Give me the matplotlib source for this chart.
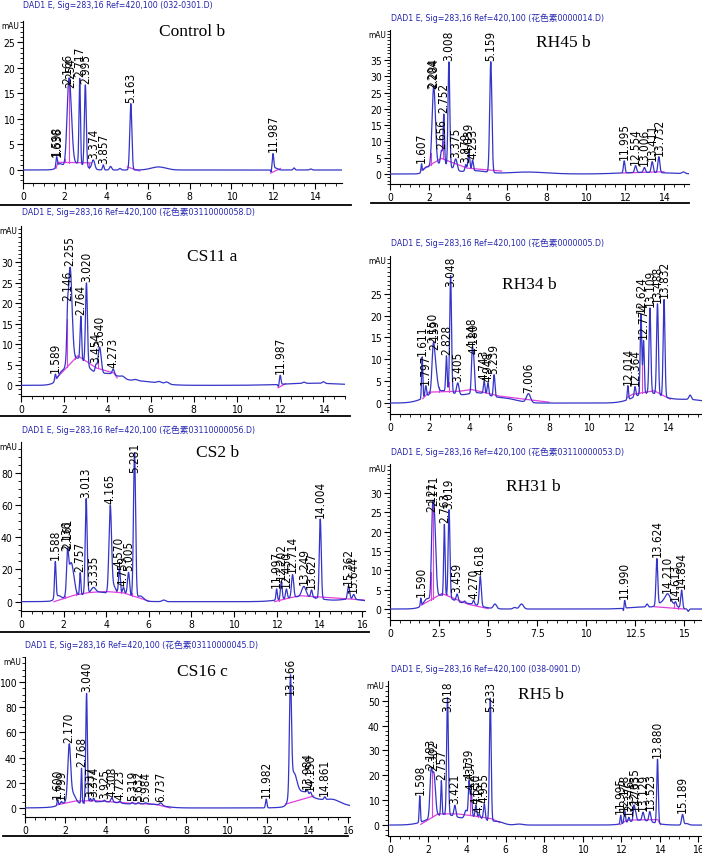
import numpy as np
import matplotlib
matplotlib.use("Agg")
import matplotlib.pyplot as plt
from matplotlib import font_manager
from matplotlib.ticker import MultipleLocator, FixedLocator, FuncFormatter

W, H = 702, 854

# peak tables: (retention time, height mAU, width, label)
# unlabelled rows are the broad humps under the peaks
control_peaks = [
    (2.45, 1.4, 0.45, ''), (1.75, 0.8, 0.12, ''),
    (1.60, 1.6, 0.025, '1.598'), (1.64, 1.0, 0.025, '1.636'),
    (2.17, 10.0, 0.08, '2.166'), (2.27, 10.0, 0.09, '2.254'),
    (2.72, 16.8, 0.035, '2.717'), (2.99, 16.0, 0.045, '2.995'),
    (3.37, 1.8, 0.07, '3.374'), (3.85, 1.0, 0.035, '3.857'),
    (4.20, 0.7, 0.05, ''), (4.65, 0.3, 0.05, ''),
    (5.17, 13.0, 0.05, '5.163'), (6.5, 0.6, 0.35, ''),
    (11.90, -0.5, 0.02, ''), (11.99, 3.0, 0.035, '11.987'), (12.1, 0.4, 0.1, ''),
    (13.0, 0.4, 0.04, ''), (13.8, 0.2, 0.05, ''),
]
control_base = [[(1.58, 0.3), (1.68, 1.5), (3.25, 1.4)], [(5.0, 0.6), (5.6, -0.2)],
                [(11.88, -0.6), (12.35, 0.3)]]
control_drops = [2.0, 2.2, 2.58, 2.85, 3.15]
control_yticks = [0, 5, 10, 15, 20, 25]

rh45_peaks = [
    (2.65, 3.2, 0.45, ''), (1.85, 1.5, 0.15, ''), (4.3, 1.0, 0.6, ''),
    (7.0, 0.6, 1.0, ''), (13.0, 0.5, 1.2, ''),
    (1.61, 2.5, 0.025, '1.607'), (2.21, 13.0, 0.08, '2.204'), (2.26, 13.0, 0.08, '2.284'),
    (2.63, 4.0, 0.05, '2.656'), (2.75, 15.0, 0.035, '2.752'), (3.01, 32.0, 0.045, '3.008'),
    (3.36, 3.4, 0.07, '3.375'), (3.87, 2.0, 0.04, '3.879'), (4.03, 5.3, 0.05, '4.039'),
    (4.22, 3.3, 0.04, '4.233'), (5.15, 34.0, 0.055, '5.159'), (11.97, 3.7, 0.04, '11.995'),
    (12.55, 2.1, 0.05, '12.554'), (13.0, 1.5, 0.05, '13.006'), (13.4, 3.3, 0.05, '13.411'),
    (13.74, 4.9, 0.05, '13.732'), (15.0, 0.5, 0.08, ''),
]
rh45_base = [[(1.62, 1.2), (2.62, 4.8), (3.95, 1.8), (5.7, 0.9)], [(11.9, 0.3), (14.0, 0.7)]]
rh45_drops = [2.08, 2.7, 2.85]
rh45_yticks = [0, 5, 10, 15, 20, 25, 30, 35]

cs11_peaks = [
    (2.6, 6.5, 0.5, ''), (4.0, 2.6, 0.55, ''), (1.85, 1.2, 0.15, ''),
    (5.5, 1.0, 0.8, ''), (13.5, 0.5, 1.3, ''),
    (1.59, 1.6, 0.03, '1.589'), (2.15, 6.0, 0.03, '2.146'), (2.27, 23.5, 0.09, '2.255'),
    (2.77, 10.5, 0.035, '2.764'), (3.03, 19.9, 0.045, '3.020'), (3.47, 1.7, 0.04, '3.454'),
    (3.64, 6.4, 0.07, '3.640'), (4.27, 1.3, 0.05, '4.273'),
    (4.7, 0.5, 0.1, ''), (5.3, 0.3, 0.1, ''), (6.4, 0.4, 0.1, ''), (6.75, 0.5, 0.1, ''),
    (11.92, -0.6, 0.03, ''), (12.0, 2.2, 0.035, '11.987'), (13.1, 0.3, 0.06, ''), (14.0, 0.4, 0.06, ''),
]
cs11_base = [[(1.62, 1.6), (2.63, 7.2), (3.5, 4.2), (4.3, 3.0), (4.45, 1.8)],
             [(11.9, -0.6), (12.25, 0.4)]]
cs11_drops = [2.13, 2.5, 2.9, 3.55]
cs11_yticks = [0, 5, 10, 15, 20, 25, 30]

rh34_peaks = [
    (2.6, 2.8, 0.7, ''), (4.4, 2.2, 0.6, ''), (5.8, 1.0, 0.6, ''),
    (13.0, 2.3, 0.7, ''), (15.0, 0.8, 0.8, ''),
    (1.62, 9.5, 0.03, '1.611'), (1.80, 2.5, 0.04, '1.797'),
    (2.17, 6.0, 0.06, '2.150'), (2.25, 7.0, 0.1, '2.159'),
    (2.84, 8.1, 0.035, '2.828'), (3.05, 26.7, 0.045, '3.048'), (3.41, 2.6, 0.06, '3.405'),
    (4.13, 8.5, 0.04, '4.148'), (4.21, 7.5, 0.045, '4.180'),
    (4.74, 2.9, 0.04, '4.743'), (4.93, 2.7, 0.04, '4.948'), (5.24, 5.0, 0.04, '5.239'),
    (6.97, 2.0, 0.1, '7.006'), (11.97, 3.2, 0.03, '12.014'), (12.33, 2.3, 0.04, '12.364'),
    (12.63, 18.3, 0.04, '12.624'), (12.76, 12.0, 0.035, '12.774'),
    (13.08, 19.4, 0.045, '13.109'), (13.46, 20.7, 0.045, '13.488'),
    (13.79, 22.2, 0.045, '13.832'), (15.1, 1.0, 0.06, ''),
]
rh34_base = [[(1.65, 1.0), (1.95, 2.5), (3.5, 2.7), (4.1, 3.1), (5.5, 1.6), (8.0, 0.2)],
             [(11.95, 1.3), (12.2, 2.0), (13.3, 2.8), (14.1, 0.9)]]
rh34_drops = [2.0, 2.45, 2.95, 4.05, 12.55, 12.7, 12.9, 13.3, 13.65]
rh34_yticks = [0, 5, 10, 15, 20, 25]

cs2_peaks = [
    (3.6, 6.0, 0.9, ''), (1.75, 3.0, 0.15, ''), (2.35, 22.0, 0.13, ''),
    (4.35, 5.0, 0.1, ''), (4.85, 3.0, 0.25, ''), (5.6, 3.0, 0.15, ''), (6.7, 1.0, 0.08, ''),
    (13.2, 3.2, 0.8, ''), (15.5, 1.5, 0.5, ''),
    (1.61, 22.5, 0.035, '1.588'), (2.17, 15.0, 0.04, '2.136'), (2.21, 9.0, 0.04, '2.161'),
    (2.78, 14.0, 0.03, '2.757'), (3.06, 59.0, 0.045, '3.013'), (3.40, 3.0, 0.1, '3.335'),
    (4.19, 53.5, 0.06, '4.165'), (4.62, 15.8, 0.04, '4.570'), (4.81, 3.5, 0.04, '4.759'),
    (5.05, 14.4, 0.05, '5.005'), (5.33, 90.5, 0.05, '5.281'),
    (12.0, 6.9, 0.03, '11.997'), (12.22, 11.1, 0.04, '12.202'), (12.46, 5.8, 0.04, '12.450'),
    (12.75, 14.1, 0.05, '12.714'), (13.28, 6.3, 0.1, '13.249'), (13.64, 4.5, 0.04, '13.627'),
    (14.05, 49.6, 0.045, '14.004'), (15.38, 8.4, 0.05, '15.362'), (15.62, 3.0, 0.05, '15.644'),
]
cs2_base = [[(1.55, 0.0), (2.5, 4.0), (3.2, 5.7), (4.0, 6.3), (4.8, 5.5), (6.0, 0.4)],
            [(11.9, 0.0), (12.5, 2.0), (13.1, 3.7), (14.5, 2.5), (15.6, 1.5), (16.1, 1.0)]]
cs2_drops = [2.05, 2.6, 2.9, 4.45, 4.7, 4.9, 5.2, 12.1, 12.35, 12.6, 13.5, 13.8]
cs2_yticks = [0, 20, 40, 60, 80]

rh31_peaks = [
    (2.6, 3.5, 0.55, ''), (4.0, 1.3, 0.6, ''), (1.85, 1.2, 0.15, ''),
    (14.1, 2.2, 0.35, ''), (12.8, 0.5, 0.7, ''),
    (1.57, 2.0, 0.025, '1.590'), (2.15, 12.3, 0.05, '2.121'), (2.25, 21.7, 0.08, '2.171'),
    (2.77, 18.4, 0.035, '2.763'), (3.01, 22.7, 0.045, '3.019'), (3.42, 1.9, 0.05, '3.459'),
    (3.8, 0.5, 0.05, ''), (4.26, 1.0, 0.04, '4.270'), (4.60, 7.6, 0.05, '4.618'),
    (5.35, 1.2, 0.08, ''), (6.35, 0.4, 0.08, ''), (6.7, 1.3, 0.1, ''),
    (11.90, -0.8, 0.02, ''), (11.96, 2.0, 0.03, '11.990'), (13.1, 0.8, 0.05, ''),
    (13.60, 12.0, 0.045, '13.624'), (14.15, 1.7, 0.12, '14.210'), (14.55, 0.9, 0.04, '14.613'),
    (14.86, 4.7, 0.045, '14.894'), (15.2, -0.6, 0.04, ''),
]
rh31_base = [[(1.6, 1.0), (2.65, 4.0), (4.0, 1.2), (5.0, 0.1)], [(13.45, 0.6), (15.0, 0.0)]]
rh31_drops = [2.08, 2.2, 2.65, 2.88, 14.45, 14.7]
rh31_yticks = [0, 5, 10, 15, 20, 25, 30]

cs16_peaks = [
    (3.8, 5.0, 1.2, ''), (2.0, 2.5, 0.3, ''), (2.35, 8.0, 0.15, ''), (6.2, 2.5, 0.6, ''),
    (14.7, 6.5, 0.9, ''), (13.3, 22.0, 0.16, ''), (13.75, 9.0, 0.35, ''), (15.3, 1.5, 0.25, ''),
    (1.62, 4.5, 0.03, '1.600'), (1.80, 1.8, 0.04, '1.799'),
    (2.19, 42.4, 0.07, '2.170'), (2.80, 27.9, 0.025, '2.768'), (3.05, 87.0, 0.04, '3.040'),
    (3.24, 3.0, 0.04, '3.237'), (3.40, 3.0, 0.04, '3.374'), (3.93, 1.2, 0.04, '3.925'),
    (4.30, 3.5, 0.05, '4.308'), (4.70, 1.5, 0.05, '4.723'), (5.32, 1.3, 0.05, '5.319'),
    (5.62, 1.2, 0.05, '5.632'), (5.97, 0.8, 0.05, '5.984'), (6.73, 2.0, 0.07, '6.737'),
    (11.95, 7.0, 0.035, '11.982'), (13.15, 88.0, 0.05, '13.166'),
    (13.98, 2.5, 0.04, '13.984'), (14.15, 2.5, 0.04, '14.150'), (14.85, 2.1, 0.04, '14.861'),
]
cs16_base = [[(1.6, 2.5), (2.5, 5.5), (3.5, 5.8), (5.0, 4.0), (6.5, 2.8), (7.2, 0.0)],
             [(12.9, 3.0), (14.3, 9.5)]]
cs16_drops = [2.6, 2.9, 3.2]
cs16_yticks = [0, 20, 40, 60, 80, 100]

rh5_peaks = [
    (2.8, 4.3, 0.75, ''), (4.5, 3.0, 0.5, ''), (5.6, 1.2, 0.3, ''),
    (13.0, 2.0, 0.6, ''), (6.7, 0.4, 0.2, ''), (3.95, 3.0, 0.07, ''),
    (1.55, 10.7, 0.03, '1.598'), (2.13, 16.1, 0.06, '2.183'), (2.28, 17.1, 0.08, '2.302'),
    (2.67, 13.6, 0.03, '2.757'), (2.99, 47.0, 0.045, '3.018'), (3.37, 4.5, 0.05, '3.421'),
    (4.11, 14.4, 0.04, '4.139'), (4.22, 10.0, 0.04, '4.237'), (4.46, 4.6, 0.04, '4.530'),
    (4.64, 1.3, 0.04, '4.715'), (4.90, 6.1, 0.045, '4.955'), (5.21, 49.4, 0.045, '5.233'),
    (11.98, 3.5, 0.03, '11.995'), (12.19, 4.6, 0.04, '12.178'), (12.40, 1.9, 0.04, '12.376'),
    (12.67, 6.1, 0.04, '12.635'), (12.76, 3.0, 0.04, '12.735'), (13.14, 3.2, 0.05, '13.129'),
    (13.49, 4.0, 0.05, '13.523'), (13.89, 25.8, 0.04, '13.880'), (15.19, 4.2, 0.05, '15.189'),
    (15.4, 0.6, 0.1, ''),
]
rh5_base = [[(1.6, 0.3), (2.5, 4.5), (3.5, 4.5), (4.5, 3.5), (5.3, 2.5), (5.7, 1.0)],
            [(11.95, 0.2), (12.3, 2.0), (13.9, 2.2), (14.05, 0.2)]]
rh5_drops = [2.2, 2.55, 2.85, 4.15, 4.35, 4.55, 4.75, 5.05]
rh5_yticks = [0, 10, 20, 30, 40, 50]

head = "DAD1 E, Sig=283,16 Ref=420,100 "
files = ["(032-0301.D)", "(花色素0000014.D)", "(花色素03110000058.D)", "(花色素0000005.D)",
         "(花色素03110000056.D)", "(花色素03110000053.D)", "(花色素03110000045.D)", "(038-0901.D)"]
names = ["Control b", "RH45 b", "CS11 a", "RH34 b", "CS2 b", "RH31 b", "CS16 c", "RH5 b"]

# look for a narrow sans face, the chromatogram text is very condensed
narrow, stretch = 'Liberation Sans', 'normal'
for f in font_manager.fontManager.ttflist:
    if f.style != 'normal' or f.weight not in (400, 'normal', 'regular'):
        continue
    if 'Narrow' in f.name or 'Condensed' in f.name or f.stretch in ('condensed', 'semi-condensed'):
        if 'Serif' in f.name or 'Mono' in f.name:
            continue
        narrow, stretch = f.name, f.stretch
        break
plt.rcParams['font.family'] = [narrow]
plt.rcParams['font.stretch'] = stretch

TRACE = '#3434c8'
BASE = '#e040e0'
HEAD = '#2525b0'


def model(t, peaks):
    t = np.asarray(t, dtype=float)
    y = np.zeros_like(t)
    for rt, h, w, lab in peaks:
        y = y + h * np.exp(-0.5 * ((t - rt) / w) ** 2)
    return y


def base_at(t, segs):
    for seg in segs:
        ts = [p[0] for p in seg]
        ys = [p[1] for p in seg]
        if ts[0] <= t <= ts[-1]:
            return np.interp(t, ts, ys)
    return 0.0


# layout, pixels: axes (left, top, right, bottom), header x/y, sample name x/y
panels = [
    dict(peaks=control_peaks, base=control_base, drops=control_drops, yt=control_yticks,
         rect=(23, 22, 342, 184), xlim=(0, 15.3), ylim=(-2.55, 29.2), xmaj=2, ymin=1,
         hxy=(23, 5), nxy=(192, 32)),
    dict(peaks=rh45_peaks, base=rh45_base, drops=rh45_drops, yt=rh45_yticks,
         rect=(390, 31, 689, 185), xlim=(0, 15.28), ylim=(-3.07, 44.2), xmaj=2, ymin=1,
         hxy=(391, 18), nxy=(563, 43)),
    dict(peaks=cs11_peaks, base=cs11_base, drops=cs11_drops, yt=cs11_yticks,
         rect=(21, 227, 345, 397), xlim=(0, 15.0), ylim=(-2.6, 38.8), xmaj=2, ymin=1,
         hxy=(22, 212), nxy=(212, 257)),
    dict(peaks=rh34_peaks, base=rh34_base, drops=rh34_drops, yt=rh34_yticks,
         rect=(390, 257, 702, 415), xlim=(0, 15.7), ylim=(-2.5, 33.6), xmaj=2, ymin=1,
         hxy=(391, 243), nxy=(529, 285)),
    dict(peaks=cs2_peaks, base=cs2_base, drops=cs2_drops, yt=cs2_yticks,
         rect=(21, 443, 365, 612), xlim=(0, 16.15), ylim=(-5.8, 99.2), xmaj=2, ymin=5,
         hxy=(22, 430), nxy=(218, 453)),
    dict(peaks=rh31_peaks, base=rh31_base, drops=rh31_drops, yt=rh31_yticks,
         rect=(390, 465, 702, 621), xlim=(0, 15.9), ylim=(-2.84, 37.5), xmaj=2.5, ymin=1,
         hxy=(391, 452), nxy=(533, 487)),
    dict(peaks=cs16_peaks, base=cs16_base, drops=cs16_drops, yt=cs16_yticks,
         rect=(25, 658, 350, 818), xlim=(0, 16.1), ylim=(-7.2, 120), xmaj=2, ymin=5,
         hxy=(25, 645), nxy=(202, 672)),
    dict(peaks=rh5_peaks, base=rh5_base, drops=rh5_drops, yt=rh5_yticks,
         rect=(388, 682, 702, 837), xlim=(-0.1, 16.2), ylim=(-4.4, 57.9), xmaj=2, ymin=2,
         hxy=(391, 670), nxy=(541, 695)),
]

fig = plt.figure(figsize=(W / 100, H / 100), dpi=100)
fmt = FuncFormatter(lambda v, p: '%g' % v)
t = np.linspace(0, 16.4, 5000)
labels = []

for i, p in enumerate(panels):
    l, tp, r, b = p['rect']
    ax = fig.add_axes([l / W, 1 - b / H, (r - l) / W, (b - tp) / H])
    ax.patch.set_alpha(0)
    y = model(t, p['peaks'])
    ax.plot(t, y, color=TRACE, lw=0.9, zorder=3)
    for seg in p['base']:
        ax.plot([q[0] for q in seg], [q[1] for q in seg], color=BASE, lw=0.9, zorder=2)
    for d in p['drops']:
        ax.plot([d, d], [base_at(d, p['base']), model([d], p['peaks'])[0]], color=BASE, lw=0.8, zorder=2)
    for rt, h, w, lab in p['peaks']:
        if lab:
            top = model([rt], p['peaks'])[0]
            a = ax.annotate(lab, (rt, top), xytext=(0, 1.5), textcoords='offset points',
                            rotation=90, ha='center', va='bottom', fontsize=8.5,
                            color='black', zorder=4)
            labels.append((ax, a))
    ax.set_xlim(*p['xlim'])
    ax.set_ylim(*p['ylim'])
    for s in ['top', 'right']:
        ax.spines[s].set_visible(False)
    ax.spines['left'].set_linewidth(0.8)
    ax.spines['bottom'].set_linewidth(0.8)
    ax.xaxis.set_major_locator(MultipleLocator(p['xmaj']))
    ax.xaxis.set_minor_locator(MultipleLocator(0.5))
    ax.yaxis.set_major_locator(FixedLocator(p['yt']))
    ax.yaxis.set_minor_locator(MultipleLocator(p['ymin']))
    ax.xaxis.set_major_formatter(fmt)
    ax.yaxis.set_major_formatter(fmt)
    ax.tick_params(which='major', length=4, width=0.8, labelsize=7.5, pad=2)
    ax.tick_params(which='minor', length=2, width=0.6)
    ax.text(-4 / (r - l), 1.0, 'mAU', transform=ax.transAxes, ha='right', va='top',
            fontsize=6)
    hx, hy = p['hxy']
    fig.text(hx / W, 1 - hy / H, head + files[i], ha='left', va='center', fontsize=6.3,
             color=HEAD, family=[narrow, 'Noto Sans CJK SC'])
    nx, ny = p['nxy']
    fig.text(nx / W, 1 - ny / H, names[i], ha='center', va='center', fontsize=12.5,
             family='Liberation Serif', stretch='normal')

# black frame lines under some of the pasted panels
for x0, x1, yy in [(0, 351, 206), (371, 689, 204), (0, 350, 417), (0, 369, 633), (3, 348, 837)]:
    fig.add_artist(plt.Line2D([x0 / W, x1 / W], [1 - yy / H, 1 - yy / H], color='black', lw=1.3))

# labels that would run past the top of the plot are pushed down into it
fig.canvas.draw()
rend = fig.canvas.get_renderer()
for ax, a in labels:
    top_px = ax.get_window_extent(rend).y1
    bb = a.get_window_extent(rend)
    if bb.y1 > top_px:
        over = bb.y1 - top_px
        a.xyann = (0, 1.5 - over * 72 / fig.dpi)

fig.savefig('out.png', dpi=100)
